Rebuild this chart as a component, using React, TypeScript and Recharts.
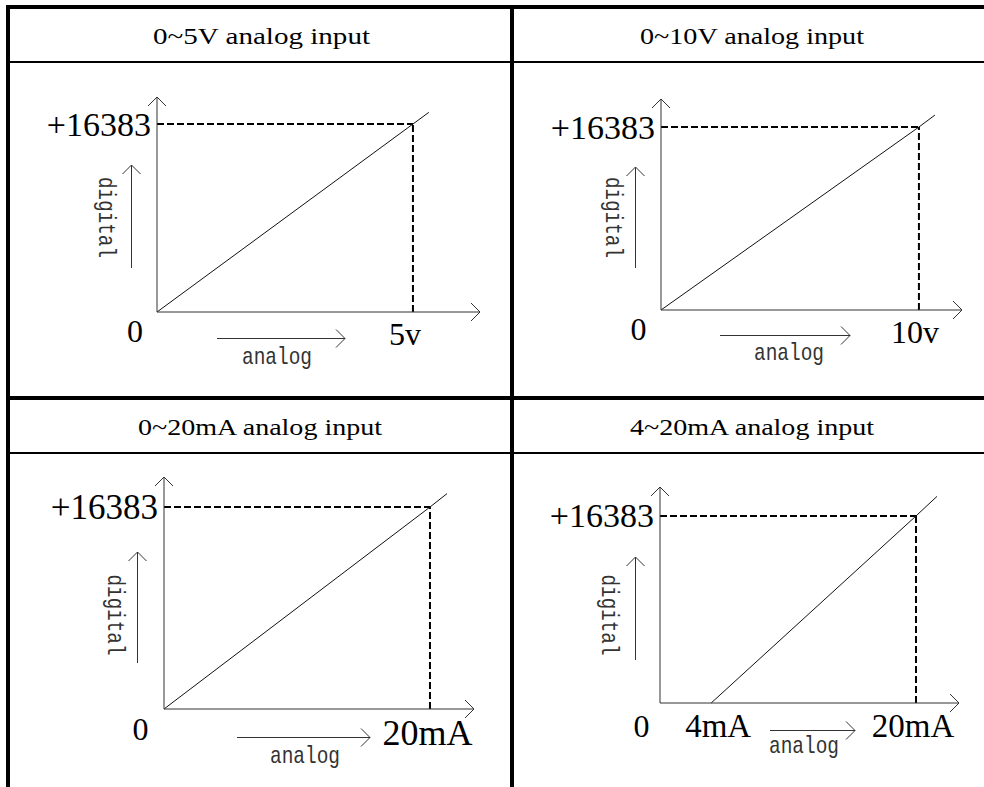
import React from 'react';
import { LineChart, Line, XAxis, YAxis, ReferenceLine } from 'recharts';

// ---------------- data ----------------
const panelTitles = ['0~5V analog input', '0~10V analog input', '0~20mA analog input', '4~20mA analog input'];
const fullScaleDigital = 16383;
const yTickValues = [16383];
const yTickLabels = ['+16383'];
const fullScaleInputs = [5, 10, 20, 20];

const line5V = [
  { x: 0, y: 0 },
  { x: 5, y: 16383 },
  { x: 5.31, y: 17400 },
];
const line10V = [
  { x: 0, y: 0 },
  { x: 10, y: 16383 },
  { x: 10.62, y: 17450 },
];
const line0to20mA = [
  { x: 0, y: 0 },
  { x: 20, y: 16383 },
  { x: 21.28, y: 17470 },
];
const line4to20mA = [
  { x: 4, y: 0 },
  { x: 20, y: 16383 },
  { x: 21.64, y: 18100 },
];

const xTicks5V = [5];
const xLabels5V = ['5v'];
const xTicks10V = [10];
const xLabels10V = ['10v'];
const xTicks0to20 = [20];
const xLabels0to20 = ['20mA'];
const xTicks4to20 = [4, 20];
const xLabels4to20 = ['4mA', '20mA'];

const xDomains = [
  [0, 6.31],
  [0, 11.67],
  [0, 23.31],
  [0, 23.36],
];
const yDomains = [
  [0, 18740],
  [0, 18890],
  [0, 18820],
  [0, 18920],
];

// ---------------- style ----------------
const SERIF = '"Liberation Serif", "Times New Roman", serif';
const MONO = '"Liberation Mono", "DejaVu Sans Mono", monospace';
const AXIS = '#333';

function XDecor(props: any) {
  const vb = props.viewBox || { x: 0, y: 0 };
  const d = props.d;
  const ox = vb.x;
  const oy = vb.y;
  return (
    <g>
      <text x={ox + d.zeroDx} y={oy + d.zeroDy} textAnchor="middle" fontFamily={SERIF} fontSize={32} fill="#000">
        0
      </text>
      <line
        x1={ox + d.ax0}
        x2={ox + d.ax1}
        y1={oy + d.ady + 0.5}
        y2={oy + d.ady + 0.5}
        stroke={AXIS}
        strokeWidth={1}
        markerEnd="url(#openArrow)"
      />
      <text
        x={ox + d.atx}
        y={oy + d.aty}
        textAnchor="middle"
        fontFamily={MONO}
        fontSize={24}
        textLength={70}
        lengthAdjust="spacingAndGlyphs"
        fill="#333"
      >
        analog
      </text>
    </g>
  );
}

function YDecor(props: any) {
  const vb = props.viewBox || { x: 0, y: 0, width: 0, height: 0 };
  const d = props.d;
  const ox = vb.x + (vb.width || 0);
  const oy = vb.y + vb.height;
  const tx = ox + d.tx;
  const ty = oy + d.ty;
  return (
    <g>
      <line
        x1={ox + d.vx + 0.5}
        x2={ox + d.vx + 0.5}
        y1={oy + d.vy0}
        y2={oy + d.vy1}
        stroke={AXIS}
        strokeWidth={1}
        markerEnd="url(#openArrow)"
      />
      <text
        x={tx}
        y={ty}
        transform={`rotate(90, ${tx}, ${ty})`}
        textAnchor="middle"
        dominantBaseline="central"
        fontFamily={MONO}
        fontSize={24}
        textLength={81}
        lengthAdjust="spacingAndGlyphs"
        fill="#333"
      >
        digital
      </text>
    </g>
  );
}

type PanelProps = {
  idx: number;
  data: { x: number; y: number }[];
  xTicks: number[];
  xLabels: string[];
  box: { left: number; top: number; width: number; height: number };
  margin: { top: number; right: number; bottom: number; left: number };
  tickFont: number;
  tickBase: number;
  tickDx: number[];
  yFont: number;
  xd: any;
  yd: any;
};

function Panel(p: PanelProps) {
  const corner = fullScaleInputs[p.idx];
  const xMin = xDomains[p.idx][0];
  const renderXTick = (t: any) => {
    const i = p.xTicks.indexOf(t.payload.value);
    return (
      <text
        key={`xt-${i}`}
        x={t.x + (p.tickDx[i] || 0)}
        y={t.y + p.tickBase}
        textAnchor="middle"
        fontFamily={SERIF}
        fontSize={p.tickFont}
        fill="#000"
      >
        {p.xLabels[i]}
      </text>
    );
  };
  const renderYTick = (t: any) => {
    const i = yTickValues.indexOf(t.payload.value);
    return (
      <text
        key={`yt-${i}`}
        x={t.x - 6}
        y={t.y + 11.5}
        textAnchor="end"
        fontFamily={SERIF}
        fontSize={p.yFont}
        fill="#000"
      >
        {yTickLabels[i]}
      </text>
    );
  };
  // axes occupy 1px so that recharts draws them; compensate in the margins
  const m = { ...p.margin, left: p.margin.left - 1, bottom: p.margin.bottom - 1 };
  return (
    <div style={{ position: 'absolute', left: p.box.left, top: p.box.top }}>
      <LineChart width={p.box.width} height={p.box.height} data={p.data} margin={m}>
        <XAxis
          dataKey="x"
          type="number"
          domain={xDomains[p.idx]}
          ticks={p.xTicks}
          interval={0}
          height={1}
          tickLine={false}
          tickSize={0}
          tickMargin={0}
          tick={renderXTick}
          axisLine={{ stroke: AXIS, strokeWidth: 1, markerEnd: 'url(#openArrow)' }}
          label={<XDecor d={p.xd} />}
        />
        <YAxis
          dataKey="y"
          type="number"
          domain={yDomains[p.idx]}
          ticks={yTickValues}
          interval={0}
          width={1}
          tickLine={false}
          tickSize={0}
          tickMargin={0}
          tick={renderYTick}
          axisLine={{ stroke: AXIS, strokeWidth: 1, markerStart: 'url(#openArrow)' }}
          label={<YDecor d={p.yd} />}
        />
        <ReferenceLine
          segment={[
            { x: xMin, y: fullScaleDigital },
            { x: corner, y: fullScaleDigital },
          ]}
          stroke="#000"
          strokeWidth={2}
          strokeDasharray="7 3"
        />
        <ReferenceLine
          segment={[
            { x: corner, y: 0 },
            { x: corner, y: fullScaleDigital },
          ]}
          stroke="#000"
          strokeWidth={2}
          strokeDasharray="7 3"
        />
        <Line
          dataKey="y"
          type="linear"
          stroke="#111"
          strokeWidth={1}
          dot={false}
          activeDot={false}
          isAnimationActive={false}
        />
      </LineChart>
    </div>
  );
}

export default function App() {
  const headerStyle = { fontFamily: SERIF, fontSize: 24, fill: '#000' } as const;
  return (
    <div
      style={{
        position: 'absolute',
        left: 0,
        top: 0,
        width: 984,
        height: 787,
        background: '#fff',
        overflow: 'hidden',
      }}
    >
      <svg width={0} height={0} style={{ position: 'absolute' }}>
        <defs>
          <marker
            id="openArrow"
            markerUnits="userSpaceOnUse"
            markerWidth={24}
            markerHeight={24}
            viewBox="0 0 24 24"
            refX={12}
            refY={12}
            orient="auto-start-reverse"
          >
            <path d="M3 3 L12 12 L3 21" fill="none" stroke={AXIS} strokeWidth={1} />
          </marker>
        </defs>
      </svg>
      <svg width={984} height={787} style={{ position: 'absolute', left: 0, top: 0 }}>
        <rect x={6} y={5} width={978} height={4} fill="#000" />
        <rect x={6} y={5} width={4} height={782} fill="#000" />
        <rect x={510} y={5} width={4} height={782} fill="#000" />
        <rect x={6} y={61} width={978} height={2} fill="#000" />
        <rect x={6} y={396} width={978} height={4} fill="#000" />
        <rect x={6} y={452} width={978} height={2} fill="#000" />
        <text x={261.5} y={44} textAnchor="middle" textLength={217} lengthAdjust="spacingAndGlyphs" style={headerStyle}>
          {panelTitles[0]}
        </text>
        <text x={752} y={44} textAnchor="middle" textLength={224} lengthAdjust="spacingAndGlyphs" style={headerStyle}>
          {panelTitles[1]}
        </text>
        <text x={260} y={435} textAnchor="middle" textLength={244} lengthAdjust="spacingAndGlyphs" style={headerStyle}>
          {panelTitles[2]}
        </text>
        <text x={752} y={435} textAnchor="middle" textLength={244} lengthAdjust="spacingAndGlyphs" style={headerStyle}>
          {panelTitles[3]}
        </text>
      </svg>

      <Panel
        idx={0}
        data={line5V}
        xTicks={xTicks5V}
        xLabels={xLabels5V}
        box={{ left: 10, top: 63, width: 500, height: 333 }}
        margin={{ top: 34, right: 30, bottom: 84, left: 147 }}
        tickFont={32}
        tickBase={33}
        tickDx={[-8]}
        yFont={34}
        xd={{ zeroDx: -22, zeroDy: 30, ax0: 60, ax1: 188, ady: 26, atx: 120, aty: 52 }}
        yd={{ vx: -26, vy0: -44, vy1: -147, tx: -52, ty: -94.5 }}
      />
      <Panel
        idx={1}
        data={line10V}
        xTicks={xTicks10V}
        xLabels={xLabels10V}
        box={{ left: 514, top: 63, width: 470, height: 333 }}
        margin={{ top: 36, right: 22, bottom: 86, left: 147 }}
        tickFont={32}
        tickBase={33}
        tickDx={[-4]}
        yFont={34}
        xd={{ zeroDx: -22.5, zeroDy: 30, ax0: 59, ax1: 189, ady: 25, atx: 128, aty: 50 }}
        yd={{ vx: -26, vy0: -42, vy1: -143, tx: -49, ty: -92.5 }}
      />
      <Panel
        idx={2}
        data={line0to20mA}
        xTicks={xTicks0to20}
        xLabels={xLabels0to20}
        box={{ left: 10, top: 454, width: 500, height: 333 }}
        margin={{ top: 23, right: 36, bottom: 78, left: 154 }}
        tickFont={36}
        tickBase={36}
        tickDx={[-2.5]}
        yFont={35}
        xd={{ zeroDx: -23.5, zeroDy: 31, ax0: 73, ax1: 206, ady: 28, atx: 141, aty: 54 }}
        yd={{ vx: -27, vy0: -46, vy1: -157, tx: -50, ty: -94 }}
      />
      <Panel
        idx={3}
        data={line4to20mA}
        xTicks={xTicks4to20}
        xLabels={xLabels4to20}
        box={{ left: 514, top: 454, width: 470, height: 333 }}
        margin={{ top: 33, right: 25, bottom: 84, left: 146 }}
        tickFont={33}
        tickBase={34}
        tickDx={[7, -3]}
        yFont={34}
        xd={{ zeroDx: -18.5, zeroDy: 34, ax0: 110, ax1: 195, ady: 27, atx: 144, aty: 50 }}
        yd={{ vx: -25, vy0: -43, vy1: -146, tx: -52, ty: -88 }}
      />
    </div>
  );
}
